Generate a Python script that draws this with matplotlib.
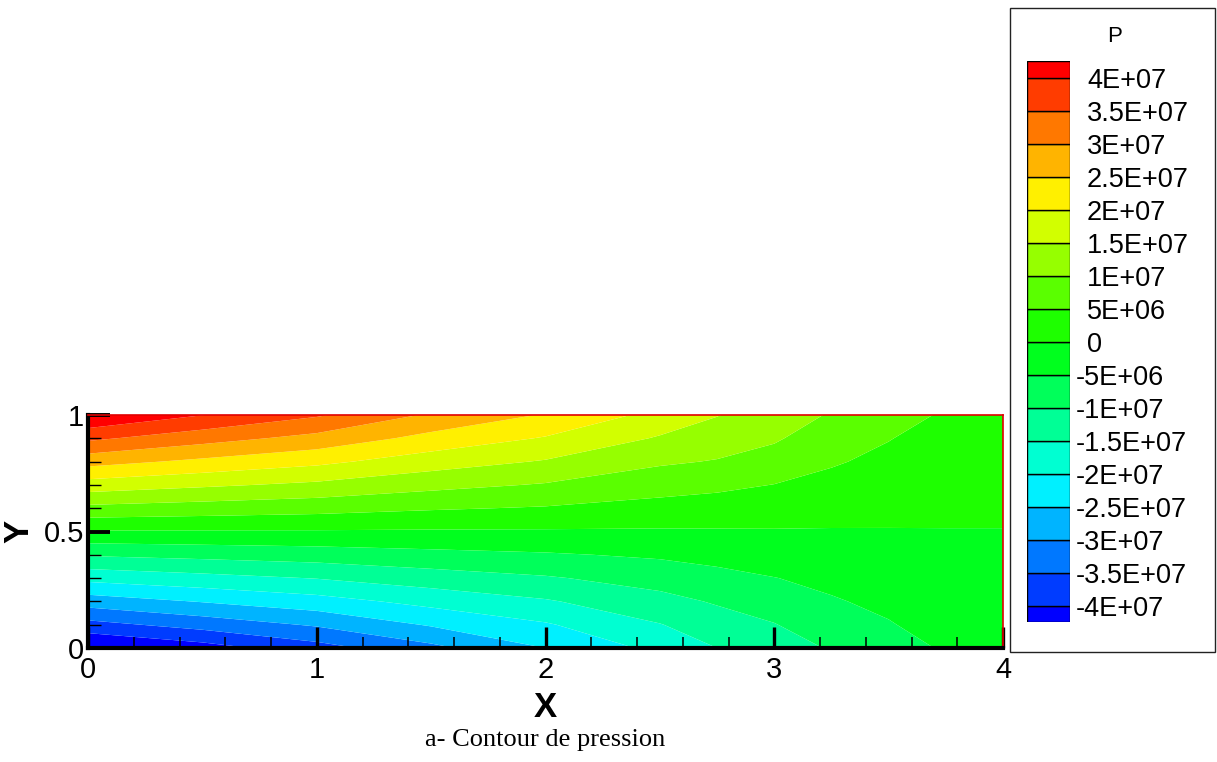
import matplotlib
matplotlib.use('Agg')
import matplotlib.pyplot as plt
import numpy as np
from matplotlib.ticker import MultipleLocator
from matplotlib.patches import Rectangle
import matplotlib.transforms as mtransforms

plt.rcParams['font.family'] = ['Liberation Sans', 'DejaVu Sans']

# ---------------- data (pressure, units of 1E+07 Pa) ----
x_pos = [0.0, 0.5, 1.0, 1.5, 2.0, 2.5, 2.75, 3.0, 3.25, 3.5, 3.75, 4.0]
y_pos = [0.0, 0.1, 0.2, 0.3, 0.4, 0.5, 0.6, 0.7, 0.8, 0.9, 1.0]

# one column per x position, values from y=0 (bottom) to y=1 (top)
p_x000 = [-4.58, -3.67, -2.76, -1.85, -0.95, -0.04, 0.87, 1.78, 2.69, 3.60, 4.51]
p_x050 = [-4.22, -3.30, -2.47, -1.66, -0.85, -0.04, 0.77, 1.58, 2.39, 3.20, 4.01]
p_x100 = [-3.70, -2.94, -2.20, -1.48, -0.76, -0.04, 0.68, 1.40, 2.12, 2.84, 3.56]
p_x150 = [-3.13, -2.45, -1.84, -1.24, -0.64, -0.05, 0.55, 1.15, 1.74, 2.34, 2.93]
p_x200 = [-2.50, -2.05, -1.55, -1.05, -0.55, -0.05, 0.46, 0.96, 1.46, 1.96, 2.46]
p_x250 = [-1.86, -1.52, -1.16, -0.80, -0.43, -0.05, 0.33, 0.70, 1.07, 1.45, 1.84]
p_x275 = [-1.50, -1.23, -0.95, -0.65, -0.34, -0.04, 0.28, 0.61, 0.97, 1.25, 1.52]
p_x300 = [-1.22, -1.02, -0.77, -0.51, -0.27, -0.03, 0.225, 0.49, 0.80, 1.06, 1.23]
p_x325 = [-0.96, -0.72, -0.54, -0.39, -0.22, -0.03, 0.17, 0.36, 0.55, 0.72, 0.96]
p_x350 = [-0.69, -0.53, -0.40, -0.27, -0.15, -0.02, 0.11, 0.25, 0.38, 0.52, 0.70]
p_x375 = [-0.45, -0.32, -0.23, -0.15, -0.08, -0.01, 0.06, 0.13, 0.21, 0.30, 0.44]
p_x400 = [-0.19, -0.14, -0.10, -0.07, -0.04, -0.005, 0.03, 0.06, 0.09, 0.13, 0.18]

scale = 1e7

# contour levels shown in the legend
levels = [-4e7, -3.5e7, -3e7, -2.5e7, -2e7, -1.5e7, -1e7, -5e6, 0,
          5e6, 1e7, 1.5e7, 2e7, 2.5e7, 3e7, 3.5e7, 4e7]
level_labels = ['-4E+07', '-3.5E+07', '-3E+07', '-2.5E+07', '-2E+07', '-1.5E+07',
                '-1E+07', '-5E+06', '0', '5E+06', '1E+07', '1.5E+07', '2E+07',
                '2.5E+07', '3E+07', '3.5E+07', '4E+07']

x_ticks = [0, 1, 2, 3, 4]
x_ticklabels = ['0', '1', '2', '3', '4']
y_ticks = [0, 0.5, 1]
y_ticklabels = ['0', '0.5', '1']

# Tecplot "small rainbow" band colours, lowest band first
band_colors = ['#0000FF', '#003CFF', '#0078FF', '#00B4FF', '#00F0FF', '#00FFD2',
               '#00FF96', '#00FF5A', '#00FF1E', '#1EFF00', '#5AFF00', '#96FF00',
               '#D2FF00', '#FFF000', '#FFB400', '#FF7800', '#FF3C00', '#FF0000']

# ---------------- figure ----------------
W, H = 1217, 762
fig = plt.figure(figsize=(W / 100, H / 100), dpi=100)

def fx(px):
    return px / W

def fy(py):
    return 1 - py / H

P = np.column_stack([p_x000, p_x050, p_x100, p_x150, p_x200, p_x250, p_x275,
                     p_x300, p_x325, p_x350, p_x375, p_x400]) * scale
X, Y = np.meshgrid(x_pos, y_pos)

ax = fig.add_axes([fx(88), fy(648), fx(1003) - fx(88), fy(415) - fy(648)])
fill_levels = [min(P.min(), levels[0]) - 1e6] + levels + [max(P.max(), levels[-1]) + 1e6]
ax.contourf(X, Y, P, levels=fill_levels, colors=band_colors, antialiased=True)
ax.set_xlim(0, 4)
ax.set_ylim(0, 1)

for side in ['left', 'bottom']:
    ax.spines[side].set_color('black')
    ax.spines[side].set_linewidth(3.0)
for side in ['top', 'right']:
    ax.spines[side].set_color('#E00000')
    ax.spines[side].set_linewidth(1.2)

ax.set_xticks(x_ticks)
ax.set_xticklabels(x_ticklabels)
ax.set_yticks(y_ticks)
ax.set_yticklabels(y_ticklabels)
ax.xaxis.set_minor_locator(MultipleLocator(0.2))
ax.yaxis.set_minor_locator(MultipleLocator(0.1))

ax.tick_params(axis='x', which='major', direction='in', length=15, width=2.4,
               labelsize=21, pad=6, top=False, color='black')
ax.tick_params(axis='x', which='minor', direction='in', length=8, width=1.1,
               top=False, color='black')
ax.tick_params(axis='y', which='major', direction='in', length=16, width=2.8,
               labelsize=21, pad=3, right=False, color='black')
ax.tick_params(axis='y', which='minor', direction='in', length=9, width=1.0,
               right=False, color='black')

ax.set_xlabel('X', fontsize=25, fontweight='bold')
ax.xaxis.set_label_coords(0.5, -0.185)
ax.set_ylabel('Y', fontsize=25, fontweight='bold')
ax.yaxis.set_label_coords(-0.057, 0.5)

# ---------------- legend ----------------
fig.patches.append(Rectangle((fx(1010), fy(652)), fx(1215) - fx(1010), fy(8) - fy(652),
                             transform=fig.transFigure, fill=False,
                             edgecolor='#222222', linewidth=1.0))
fig.text(fx(1115), fy(37), 'P', ha='center', va='center', fontsize=16)

cax = fig.add_axes([fx(1027), fy(622), fx(1070) - fx(1027), fy(61) - fy(622)])
step = levels[1] - levels[0]
bounds = [levels[0] - step / 2] + levels + [levels[-1] + step / 2]
for i, c in enumerate(band_colors):
    cax.bar(0, bounds[i + 1] - bounds[i], bottom=bounds[i], width=1.0,
            color=c, edgecolor='black', linewidth=1.0)
cax.set_xlim(-0.5, 0.5)
cax.set_ylim(bounds[0], bounds[-1])
cax.axis('off')

lab_trans = mtransforms.offset_copy(cax.get_yaxis_transform(), fig=fig, y=-2.5, units='points')
for lev, lab in zip(levels, level_labels):
    xpos = (1076 - 1027) / 43 if lab.startswith('-') else (1087 - 1027) / 43
    cax.text(xpos, lev, lab, transform=lab_trans, ha='left', va='center', fontsize=19.5)

# ---------------- caption ----------------
fig.text(fx(545), fy(740), 'a- Contour de pression', ha='center', va='center',
         fontsize=19, family=['Liberation Serif', 'DejaVu Serif'])

fig.savefig('out.png', dpi=100)
